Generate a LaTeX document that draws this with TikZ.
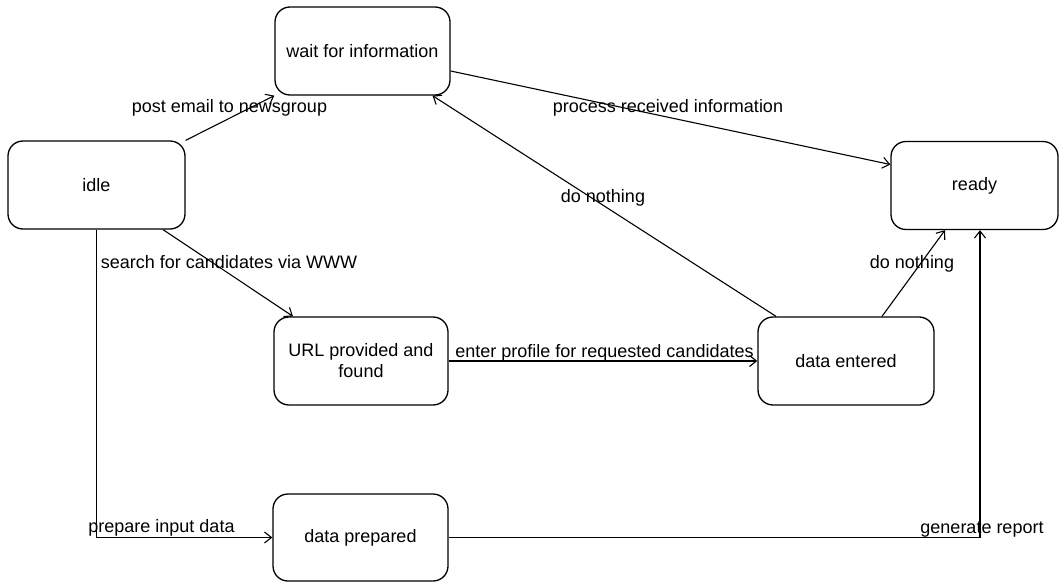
\documentclass[tikz,border=0pt]{standalone}
\usepackage{fontspec}
\setmainfont{Liberation Sans}
\usetikzlibrary{arrows.meta}
\begin{document}
\begin{tikzpicture}[x=1pt,y=-1pt,
  state/.style={draw, rounded corners=15pt, line width=1.3pt, inner sep=0pt,
                align=center, font=\fontsize{18}{21}\selectfont},
  flow/.style={line width=1.1pt,
               -{Straight Barb[length=7pt,width=11pt,line width=1.1pt]}},
  lbl/.style={inner sep=0pt, anchor=base, font=\fontsize{18}{21}\selectfont}]
\useasboundingbox (0,0) rectangle (1060,583);

% states
\node[state, minimum width=175pt, minimum height=88pt] (wait)  at (362.5,51)   {wait for information};
\node[state, minimum width=177pt, minimum height=88pt] (idle)  at (96.5,185)   {idle};
\node[state, minimum width=167pt, minimum height=88pt] (ready) at (974.5,185.5) {ready};
\node[state, minimum width=174pt, minimum height=88pt] (url)   at (361,361)    {URL provided and\\found};
\node[state, minimum width=176pt, minimum height=88pt] (entered) at (846,361)  {data entered};
\node[state, minimum width=175pt, minimum height=87pt] (prepared) at (360.5,537.5) {data prepared};

% transitions
\draw[flow] (idle.north east) -- (wait.south west);
\draw[flow] ([yshift=-20pt]wait.east) -- ([yshift=21pt]ready.west);
\draw[flow] ([xshift=-70pt]entered.north) -- ([xshift=70pt]wait.south);
\draw[flow] ([xshift=36pt]entered.north) -- ([xshift=-29.5pt]ready.south);
\draw[flow] (prepared.east) -| ([xshift=5.5pt]ready.south);
\draw[flow] ([xshift=66.5pt]idle.south) -- ([xshift=-68pt]url.north);
\draw[flow] (url.east) -- (entered.west);
\draw[flow] (idle.south) |- (prepared.west);

% transition labels
\node[lbl] (l1) at (229.5,113) {post email to newsgroup};
\node[lbl] (l2) at (668,113)   {process received information};
\node[lbl] (l3) at (603,202)   {do nothing};
\node[lbl] (l4) at (912,268)   {do nothing};
\node[lbl] (l5) at (229,268)   {search for candidates via WWW};
\node[lbl] (l6) at (604.5,357) {enter profile for requested candidates};
\node[lbl] (l7) at (161.5,532) {prepare input data};
\node[lbl] (l8) at (982,533)   {generate report};
\end{tikzpicture}
\end{document}
